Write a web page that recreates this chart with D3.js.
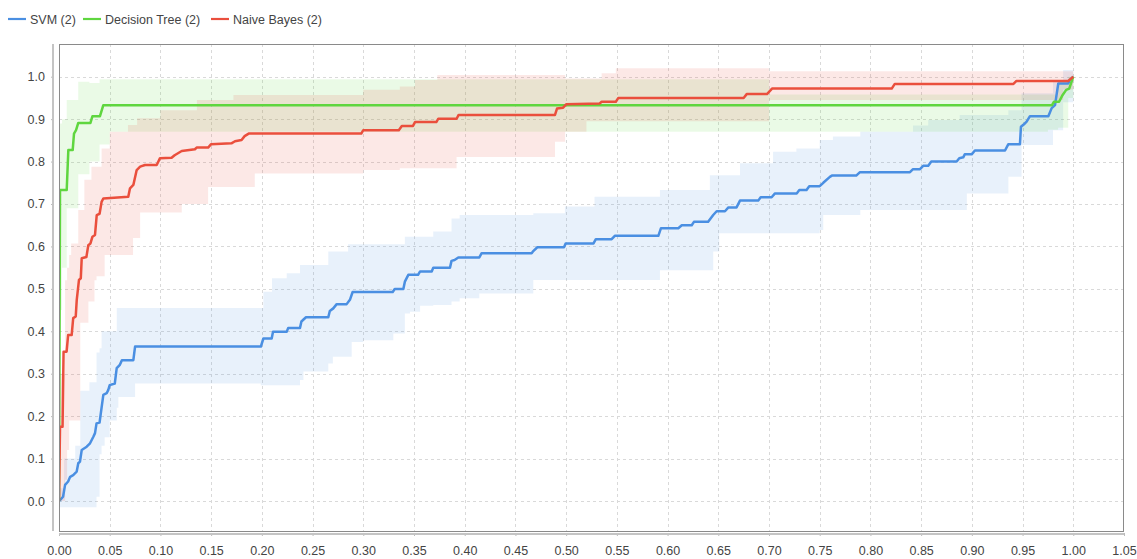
<!DOCTYPE html>
<html>
<head>
<meta charset="utf-8">
<script src="https://cdn.jsdelivr.net/npm/d3@7"></script>
<style>
  html, body { margin: 0; padding: 0; background: #fff; }
  svg { display: block; }
  text { font-family: "Liberation Sans", Arial, sans-serif; fill: #444; }
</style>
</head>
<body>
<svg id="chart" width="1137" height="559"></svg>
<script>
// ---------------- DATA ----------------
const seriesNames = ["SVM (2)", "Decision Tree (2)", "Naive Bayes (2)"];
const seriesColors = ["#4a8fe2", "#5fd63f", "#ea4f3d"];

const xTicks = [0,0.05,0.10,0.15,0.20,0.25,0.30,0.35,0.40,0.45,0.50,0.55,0.60,0.65,0.70,0.75,0.80,0.85,0.90,0.95,1.00,1.05];
const yTicks = [0,0.1,0.2,0.3,0.4,0.5,0.6,0.7,0.8,0.9,1.0];

// ROC curves: [false positive rate, true positive rate]
const svmRoc = [[0,0],[0.001,0.002],[0.004,0.010],[0.006,0.038],[0.009,0.046],[0.011,0.057],[0.014,0.061],[0.0174,0.069],[0.019,0.089],[0.0207,0.093],[0.0224,0.120],[0.0273,0.128],[0.0306,0.136],[0.034,0.152],[0.0355,0.160],[0.037,0.183],[0.040,0.185],[0.0437,0.250],[0.047,0.254],[0.0486,0.262],[0.050,0.273],[0.055,0.277],[0.0569,0.313],[0.060,0.321],[0.062,0.332],[0.0733,0.332],[0.075,0.364],[0.199,0.364],[0.2015,0.383],[0.2097,0.383],[0.211,0.399],[0.2245,0.399],[0.226,0.408],[0.2376,0.408],[0.239,0.423],[0.2435,0.433],[0.2655,0.433],[0.267,0.448],[0.2704,0.454],[0.2738,0.464],[0.2836,0.464],[0.287,0.475],[0.2895,0.4926],[0.329,0.4926],[0.331,0.4997],[0.3395,0.4997],[0.341,0.517],[0.3444,0.533],[0.354,0.533],[0.356,0.541],[0.3675,0.541],[0.369,0.550],[0.3855,0.550],[0.387,0.566],[0.390,0.568],[0.3937,0.574],[0.4144,0.574],[0.4167,0.584],[0.466,0.584],[0.4676,0.589],[0.4716,0.598],[0.4979,0.598],[0.4995,0.607],[0.527,0.607],[0.5293,0.617],[0.5449,0.617],[0.548,0.625],[0.5909,0.625],[0.5935,0.643],[0.6106,0.643],[0.614,0.650],[0.6238,0.650],[0.626,0.658],[0.640,0.658],[0.645,0.674],[0.6484,0.683],[0.6566,0.683],[0.66,0.692],[0.668,0.692],[0.6714,0.708],[0.6894,0.708],[0.6918,0.716],[0.7026,0.716],[0.7059,0.725],[0.7273,0.725],[0.7299,0.733],[0.737,0.733],[0.7397,0.742],[0.750,0.742],[0.7535,0.750],[0.760,0.764],[0.762,0.767],[0.786,0.767],[0.7897,0.775],[0.839,0.775],[0.842,0.782],[0.8489,0.782],[0.852,0.790],[0.857,0.790],[0.860,0.800],[0.885,0.800],[0.8876,0.808],[0.8915,0.810],[0.893,0.817],[0.8998,0.817],[0.903,0.826],[0.9327,0.826],[0.936,0.841],[0.9474,0.841],[0.9484,0.882],[0.9514,0.888],[0.954,0.894],[0.9573,0.907],[0.9754,0.907],[0.9787,0.926],[0.982,0.933],[0.983,0.949],[0.9852,0.984],[0.995,0.984],[0.9966,0.992],[1.0,1.0]];

const dtRoc = [[0,0],[0.001,0.733],[0.0076,0.733],[0.0092,0.827],[0.0135,0.827],[0.0148,0.866],[0.0168,0.874],[0.019,0.891],[0.031,0.891],[0.033,0.907],[0.0404,0.907],[0.0437,0.933],[0.979,0.933],[0.981,0.941],[0.986,0.941],[0.989,0.955],[0.993,0.969],[0.996,0.972],[1.0,1.0]];

const nbRoc = [[0,0],[0.001,0.175],[0.0035,0.175],[0.0045,0.352],[0.0075,0.352],[0.009,0.391],[0.0125,0.391],[0.014,0.431],[0.0165,0.435],[0.0175,0.474],[0.0197,0.521],[0.0215,0.525],[0.0224,0.572],[0.027,0.575],[0.0289,0.603],[0.031,0.607],[0.033,0.623],[0.0355,0.627],[0.0372,0.674],[0.040,0.677],[0.042,0.705],[0.0437,0.713],[0.0683,0.717],[0.070,0.737],[0.0733,0.745],[0.0766,0.780],[0.080,0.788],[0.0848,0.792],[0.0963,0.792],[0.0996,0.808],[0.111,0.809],[0.114,0.815],[0.121,0.825],[0.134,0.829],[0.1357,0.833],[0.147,0.833],[0.150,0.841],[0.170,0.843],[0.1735,0.848],[0.180,0.851],[0.183,0.860],[0.187,0.866],[0.298,0.866],[0.300,0.874],[0.335,0.874],[0.338,0.884],[0.349,0.884],[0.351,0.893],[0.372,0.893],[0.374,0.901],[0.392,0.901],[0.394,0.910],[0.489,0.910],[0.491,0.925],[0.497,0.927],[0.500,0.935],[0.533,0.937],[0.535,0.941],[0.549,0.941],[0.5515,0.950],[0.675,0.950],[0.678,0.959],[0.698,0.959],[0.703,0.972],[0.821,0.972],[0.824,0.983],[0.941,0.983],[0.944,0.990],[0.995,0.990],[1.0,1.0]];

// Deviation bands: [fpr, lower tpr, upper tpr]
const svmBand = [[0,-0.015,0.03],[0.005,-0.015,0.10],[0.016,-0.015,0.13],[0.021,-0.015,0.26],[0.030,-0.015,0.28],[0.037,0.01,0.35],[0.040,0.11,0.36],[0.042,0.13,0.40],[0.045,0.15,0.40],[0.050,0.19,0.40],[0.057,0.22,0.455],[0.0585,0.245,0.455],[0.075,0.277,0.455],[0.199,0.273,0.455],[0.2015,0.273,0.493],[0.21,0.273,0.525],[0.2245,0.273,0.537],[0.2376,0.285,0.556],[0.241,0.305,0.556],[0.2655,0.324,0.588],[0.270,0.340,0.588],[0.285,0.340,0.605],[0.2886,0.375,0.605],[0.300,0.379,0.605],[0.3296,0.395,0.605],[0.341,0.442,0.623],[0.346,0.446,0.623],[0.356,0.460,0.623],[0.369,0.462,0.635],[0.387,0.470,0.666],[0.395,0.478,0.674],[0.4144,0.489,0.674],[0.4676,0.521,0.678],[0.4988,0.521,0.694],[0.528,0.521,0.717],[0.5925,0.544,0.733],[0.6417,0.544,0.768],[0.645,0.588,0.768],[0.651,0.631,0.768],[0.6714,0.631,0.796],[0.704,0.631,0.823],[0.727,0.631,0.831],[0.75,0.639,0.851],[0.7535,0.674,0.851],[0.763,0.674,0.859],[0.79,0.686,0.870],[0.842,0.686,0.885],[0.857,0.686,0.898],[0.888,0.686,0.910],[0.895,0.725,0.910],[0.936,0.764,0.921],[0.949,0.839,0.961],[0.98,0.874,0.992],[0.99,0.94,1.016],[1.0,0.99,1.016]];

const dtBand = [[0,0.45,0.89],[0.003,0.55,0.90],[0.0076,0.69,0.945],[0.019,0.77,0.988],[0.030,0.80,0.985],[0.040,0.84,0.994],[0.050,0.870,0.994],[0.70,0.870,0.958],[0.975,0.875,0.958],[0.985,0.88,0.99],[0.995,0.95,1.0],[1.0,0.99,1.0]];

const nbBand = [[0,0,0.30],[0.006,0.05,0.52],[0.008,0.12,0.55],[0.010,0.19,0.58],[0.012,0.19,0.607],[0.019,0.19,0.686],[0.021,0.42,0.686],[0.025,0.42,0.757],[0.029,0.47,0.757],[0.032,0.47,0.788],[0.035,0.52,0.788],[0.037,0.53,0.788],[0.042,0.53,0.831],[0.045,0.58,0.831],[0.050,0.58,0.870],[0.068,0.58,0.886],[0.073,0.62,0.886],[0.077,0.62,0.902],[0.080,0.68,0.902],[0.100,0.68,0.921],[0.121,0.70,0.921],[0.136,0.70,0.945],[0.147,0.74,0.945],[0.172,0.74,0.957],[0.193,0.772,0.957],[0.30,0.78,0.969],[0.336,0.784,0.977],[0.351,0.784,0.992],[0.373,0.784,1.004],[0.392,0.811,1.004],[0.489,0.847,1.004],[0.499,0.87,0.996],[0.52,0.895,0.996],[0.535,0.895,1.008],[0.549,0.895,1.02],[0.70,0.945,1.013],[0.99,0.97,1.013],[1.0,0.99,1.013]];

// ---------------- CHART ----------------
const svg = d3.select("#chart");
const plot = {left: 59, top: 44, right: 1124, bottom: 531};

const x = d3.scaleLinear().domain([0, 1.05]).range([plot.left, plot.right]);
const y = d3.scaleLinear().domain([-0.0707, 1.0771]).range([plot.bottom, plot.top]);

// grid
const grid = svg.append("g");
grid.selectAll("line.v").data(xTicks.filter(t => t > 0 && t < 1.04)).enter().append("line")
  .attr("x1", d => Math.round(x(d)) + 0.5).attr("x2", d => Math.round(x(d)) + 0.5)
  .attr("y1", plot.top).attr("y2", plot.bottom)
  .attr("stroke", "#d9d9d9").attr("stroke-dasharray", "3,3");
grid.selectAll("line.h").data(yTicks).enter().append("line")
  .attr("y1", d => Math.round(y(d)) + 0.5).attr("y2", d => Math.round(y(d)) + 0.5)
  .attr("x1", plot.left).attr("x2", plot.right)
  .attr("stroke", "#d9d9d9").attr("stroke-dasharray", "3,3");

// clip
svg.append("clipPath").attr("id", "clip").append("rect")
  .attr("x", plot.left).attr("y", plot.top)
  .attr("width", plot.right - plot.left).attr("height", plot.bottom - plot.top);

const area = d3.area()
  .x(d => x(d[0])).y0(d => y(d[1])).y1(d => y(d[2]))
  .curve(d3.curveStepAfter);
const line = d3.line().x(d => x(d[0])).y(d => y(d[1]));

const bands = [svmBand, dtBand, nbBand];
const rocs = [svmRoc, dtRoc, nbRoc];

const g = svg.append("g").attr("clip-path", "url(#clip)");
bands.forEach((b, i) => {
  g.append("path").attr("d", area(b))
    .attr("fill", seriesColors[i]).attr("fill-opacity", 0.13);
});
rocs.forEach((r, i) => {
  g.append("path").attr("d", line(r))
    .attr("fill", "none").attr("stroke", seriesColors[i])
    .attr("stroke-width", 2.5).attr("stroke-linejoin", "round");
});

// plot border
svg.append("rect")
  .attr("x", plot.left + 0.5).attr("y", plot.top + 0.5)
  .attr("width", plot.right - plot.left - 1).attr("height", plot.bottom - plot.top)
  .attr("fill", "none").attr("stroke", "#8a8a8a");

// axes
const yAxis = d3.axisLeft(y).tickValues(yTicks).tickFormat(d3.format(".1f")).tickSize(2).tickPadding(6);
const gy = svg.append("g").attr("transform", "translate(53,0)").call(yAxis);
const xAxis = d3.axisBottom(x).tickValues(xTicks).tickFormat(d3.format(".2f")).tickSize(3).tickPadding(10);
const gx = svg.append("g").attr("transform", "translate(0,533)").call(xAxis);
[gx, gy].forEach(ax => {
  ax.select(".domain").remove();
  ax.selectAll(".tick line").attr("stroke", "#bbb");
  ax.selectAll("text").style("font-size", "12.5px").attr("fill", "#444")
    .style("font-family", "'Liberation Sans', Arial, sans-serif");
});
svg.append("line").attr("x1", 53).attr("x2", 53).attr("y1", plot.top).attr("y2", plot.bottom)
  .attr("stroke", "#c4c4c4").attr("stroke-width", 2);
svg.append("line").attr("x1", plot.left).attr("x2", plot.right).attr("y1", 534).attr("y2", 534)
  .attr("stroke", "#c4c4c4").attr("stroke-width", 2);

// legend
const legendX = [8, 83, 211];
const lg = svg.append("g");
seriesNames.forEach((n, i) => {
  lg.append("line").attr("x1", legendX[i]).attr("x2", legendX[i] + 18)
    .attr("y1", 19).attr("y2", 19)
    .attr("stroke", seriesColors[i]).attr("stroke-width", 2.2);
  lg.append("text").attr("x", legendX[i] + 22).attr("y", 23.5)
    .style("font-size", "12.5px").text(n);
});
</script>
</body>
</html>
